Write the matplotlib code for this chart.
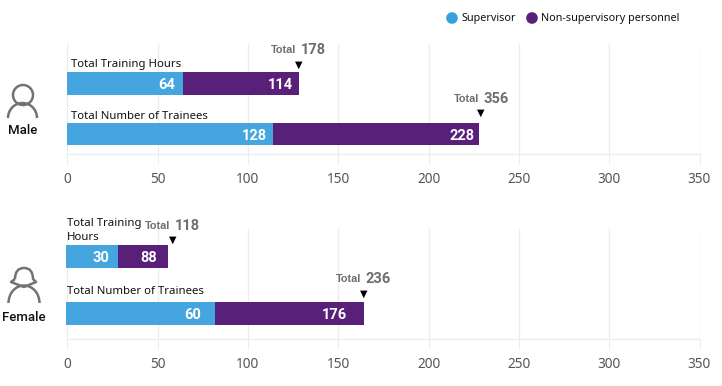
import matplotlib
matplotlib.use('Agg')
import matplotlib.pyplot as plt
from matplotlib.patches import Arc, Circle, PathPatch
from matplotlib.path import Path

blue = '#45A6DF'
purple = '#582079'
grid_color = '#EDEDED'

# bar lengths as drawn on the axis
male_supervisor = [64, 114]
male_other = [64, 114]
female_supervisor = [28, 82]
female_other = [28, 82]

# numbers printed on the bars
male_sup_labels = ['64', '128']
male_other_labels = ['114', '228']
female_sup_labels = ['30', '60']
female_other_labels = ['88', '176']
male_totals = ['178', '356']
female_totals = ['118', '236']

male_names = ['Total Training Hours', 'Total Number of Trainees']
female_names = ['Total Training\nHours', 'Total Number of Trainees']
xticks = [0, 50, 100, 150, 200, 250, 300, 350]

W, H = 722, 386
fig = plt.figure(figsize=(W / 100, H / 100), dpi=100)
SANS = 'Noto Sans'
ROBOTO = 'Roboto'


def draw_panel(top, bottom, ylim, bar_h, x0, sup, other, sup_lab, other_lab, totals, names,
               name_x, name_y, sup_pad, other_pad, tri_shift, tri_y, total_y):
    ax = fig.add_axes([67.3 / W, 1 - bottom / H, 632.2 / W, (bottom - top) / H])
    ax.set_xlim(0, 350)
    ax.set_ylim(*ylim)
    ax.patch.set_alpha(0)
    ax.grid(axis='x', color=grid_color, lw=1)
    ax.set_axisbelow(True)
    for s in ['top', 'left', 'right']:
        ax.spines[s].set_visible(False)
    ax.spines['bottom'].set_color(grid_color)
    ax.spines['bottom'].set_linewidth(1)
    ax.set_yticks([])
    ax.set_xticks(xticks)
    ax.tick_params(axis='x', length=7, width=0.75, color=grid_color, pad=6,
                   labelsize=9.8, labelcolor='#555555')
    for t in ax.get_xticklabels():
        t.set_fontfamily(SANS)
    for i in range(2):
        ax.barh(i, sup[i] - x0, left=x0, height=bar_h, color=blue, clip_on=False)
        ax.barh(i, other[i], left=sup[i], height=bar_h, color=purple)
        end = sup[i] + other[i]
        ax.annotate(sup_lab[i], (sup[i], i), xytext=(sup_pad[i], 0), textcoords='offset pixels',
                    ha='right', va='center_baseline', color='white', fontsize=10.5,
                    fontweight='bold', fontfamily=ROBOTO)
        ax.annotate(other_lab[i], (end, i), xytext=(other_pad[i], 0), textcoords='offset pixels',
                    ha='right', va='center_baseline', color='white', fontsize=10.5,
                    fontweight='bold', fontfamily=ROBOTO)
        ax.annotate('\u25BC', (end, i), xytext=(tri_shift[i], tri_y[i]), textcoords='offset pixels',
                    ha='center', va='center', color='black', fontsize=7, fontfamily='DejaVu Sans')
        ax.annotate('Total', (end, i), xytext=(tri_shift[i] - 2, total_y[i]), textcoords='offset pixels',
                    ha='right', va='center', color='#6E6E6E', fontsize=7.8,
                    fontweight='bold', fontfamily='Liberation Sans')
        ax.annotate(totals[i], (end, i), xytext=(tri_shift[i] + 2, total_y[i]), textcoords='offset pixels',
                    ha='left', va='center', color='#6E6E6E', fontsize=10.5,
                    fontweight='bold', fontfamily=ROBOTO)
        ax.annotate(names[i], (0, i), xytext=(name_x, name_y[i]), textcoords='offset pixels',
                    ha='left', va='bottom', color='#111111', fontsize=8.2, linespacing=1.4,
                    fontfamily=SANS)
    return ax


# male panel
draw_panel(44, 153.5, (1.386, -0.782), 0.45, 0, male_supervisor, male_other,
           male_sup_labels, male_other_labels, male_totals, male_names,
           4, [13, 12], [-8, -6], [-6, -5], [0, 2], [19, 21], [33, 35])
# female panel
draw_panel(229, 338.5, (1.439, -0.482), 0.4, -0.7, female_supervisor, female_other,
           female_sup_labels, female_other_labels, female_totals, female_names,
           0, [13, 16], [-9, -14], [-11, -16], [4, 0], [17, 20], [30, 34])

# overlay in pixel coordinates for legend and icons
ov = fig.add_axes([0, 0, 1, 1])
ov.set_xlim(0, W)
ov.set_ylim(H, 0)
ov.axis('off')
ov.patch.set_alpha(0)

ov.scatter([452, 532], [18, 18], s=70, color=['#35A2E0', purple], linewidths=0)
ov.text(461, 18, 'Supervisor', fontsize=7.8, va='center', color='#111111', fontfamily=SANS)
ov.text(541, 18, 'Non-supervisory personnel', fontsize=7.8, va='center', color='#111111', fontfamily=SANS)

ov.text(23, 130.5, 'Male', fontsize=9.5, ha='center', va='center', color='#111111',
        fontweight='medium', fontfamily=ROBOTO)
ov.text(24, 317.5, 'Female', fontsize=9.5, ha='center', va='center', color='#111111',
        fontweight='medium', fontfamily=ROBOTO)

icon = '#737373'
ov.add_patch(Circle((23, 95), 10, fill=False, ec=icon, lw=1.8))
ov.add_patch(Arc((22.5, 118), 29, 30, theta1=180, theta2=360, ec=icon, lw=1.8))

hair = Path([(15, 279), (15, 268), (24, 268), (33, 268), (33, 279),
             (36, 282), (24, 287), (11, 282), (15, 279)],
            [Path.MOVETO, Path.CURVE3, Path.CURVE3, Path.CURVE3, Path.CURVE3,
             Path.LINETO, Path.LINETO, Path.LINETO, Path.LINETO])
ov.add_patch(PathPatch(hair, fill=False, ec=icon, lw=1.8, joinstyle='round'))
ov.add_patch(Arc((24, 303), 31, 35, theta1=180, theta2=360, ec=icon, lw=1.8))

fig.savefig('out.png', dpi=100)
